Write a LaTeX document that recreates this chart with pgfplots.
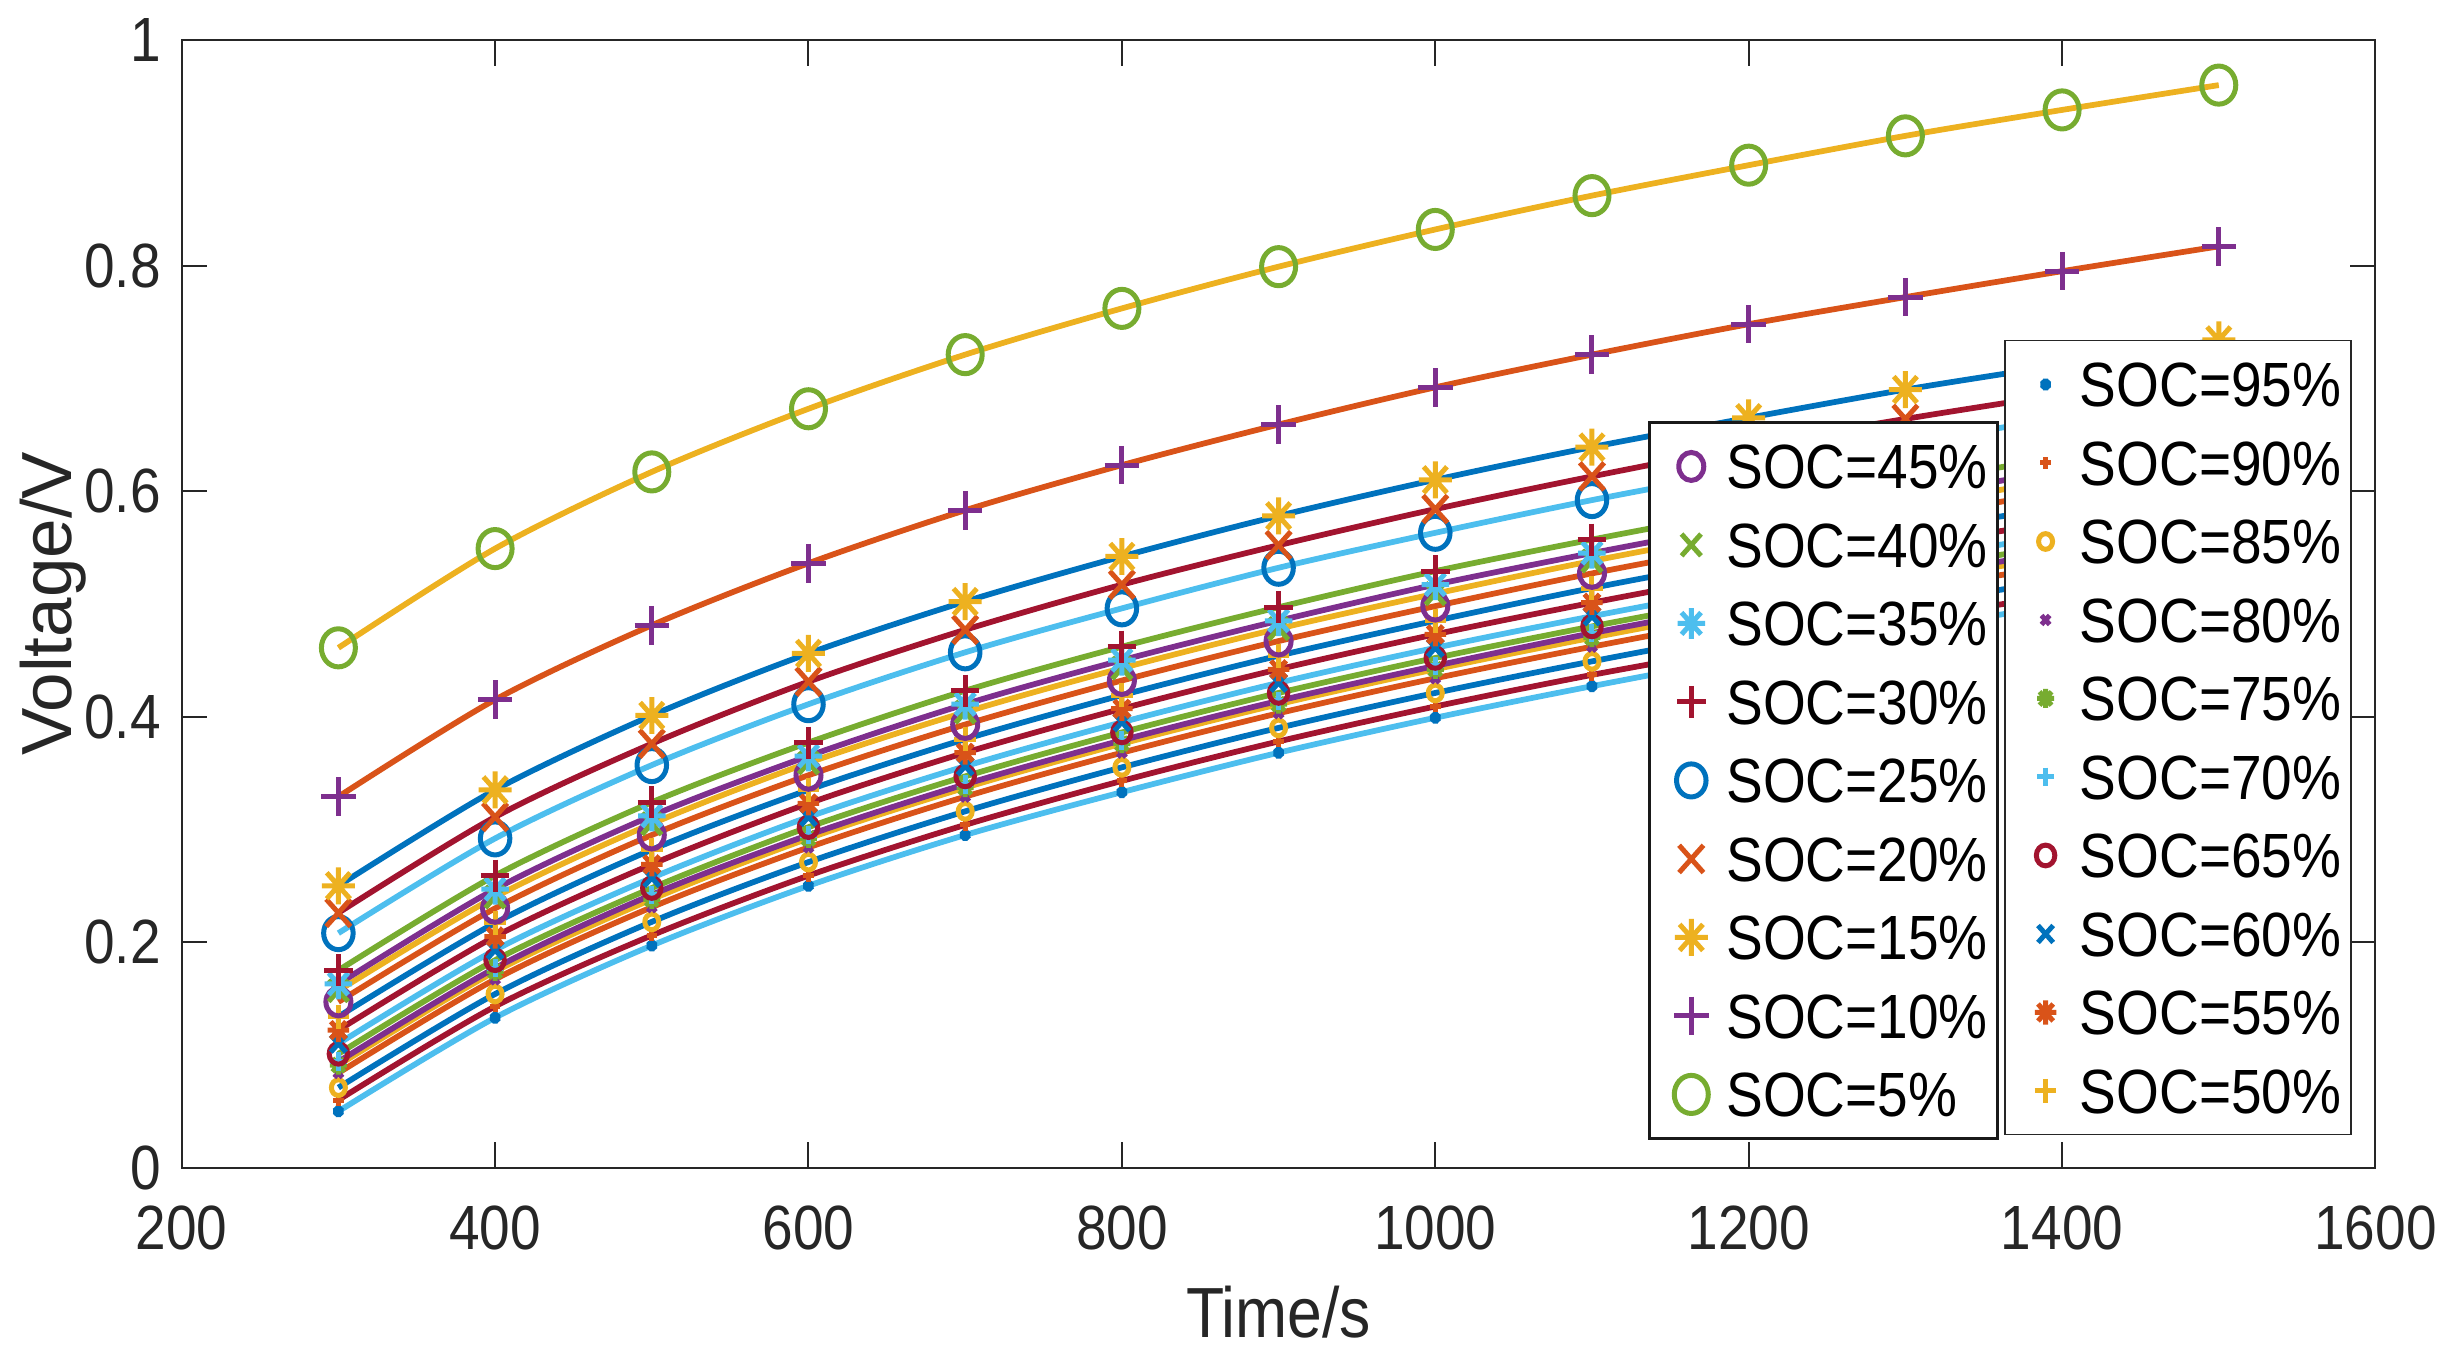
\documentclass[border=0pt]{standalone}
\usepackage{fontspec}
\setmainfont{Liberation Sans}[FakeStretch=0.88]
\newfontfamily\ylabfont{Liberation Sans}
\usepackage{pgfplots}
\usepackage{pgfplotstable}
\pgfplotsset{compat=1.18}

\definecolor{c1}{HTML}{0072BD}
\definecolor{c2}{HTML}{D95319}
\definecolor{c3}{HTML}{EDB120}
\definecolor{c4}{HTML}{7E2F8E}
\definecolor{c5}{HTML}{77AC30}
\definecolor{c6}{HTML}{4DBEEE}
\definecolor{c7}{HTML}{A2142F}
\definecolor{tx}{HTML}{262626}

\pgfdeclareplotmark{matast}{%
  \pgfpathmoveto{\pgfqpoint{-\pgfplotmarksize}{0pt}}%
  \pgfpathlineto{\pgfqpoint{\pgfplotmarksize}{0pt}}%
  \pgfpathmoveto{\pgfqpoint{0pt}{-\pgfplotmarksize}}%
  \pgfpathlineto{\pgfqpoint{0pt}{\pgfplotmarksize}}%
  \pgfpathmoveto{\pgfqpoint{-.7071\pgfplotmarksize}{-.7071\pgfplotmarksize}}%
  \pgfpathlineto{\pgfqpoint{.7071\pgfplotmarksize}{.7071\pgfplotmarksize}}%
  \pgfpathmoveto{\pgfqpoint{-.7071\pgfplotmarksize}{.7071\pgfplotmarksize}}%
  \pgfpathlineto{\pgfqpoint{.7071\pgfplotmarksize}{-.7071\pgfplotmarksize}}%
  \pgfusepathqstroke}

\tikzset{
  mkbase/.style={mark options={solid, line width=1pt, yscale=1.12}},
  mk5/.style ={mkbase, color=c5, mark=o,      mark size=3.4pt},
  mk10/.style={mkbase, color=c4, mark=+,      mark size=3.45pt},
  mk15/.style={mkbase, color=c3, mark=matast, mark size=3.3pt},
  mk20/.style={mkbase, color=c2, mark=x,      mark size=3.45pt},
  mk25/.style={mkbase, color=c1, mark=o,      mark size=2.95pt},
  mk30/.style={mkbase, color=c7, mark=+,      mark size=2.85pt},
  mk35/.style={mkbase, color=c6, mark=matast, mark size=2.75pt},
  mk40/.style={mkbase, color=c5, mark=x,      mark size=2.75pt},
  mk45/.style={mkbase, color=c4, mark=o,      mark size=2.5pt},
  mk50/.style={mkbase, color=c3, mark=+,      mark size=2.15pt},
  mk55/.style={mkbase, color=c2, mark=matast, mark size=2.15pt},
  mk60/.style={mkbase, color=c1, mark=x,      mark size=2.15pt},
  mk65/.style={mkbase, color=c7, mark=o,      mark size=1.85pt},
  mk70/.style={mkbase, color=c6, mark=+,      mark size=1.65pt},
  mk75/.style={mkbase, color=c5, mark=matast, mark size=1.7pt},
  mk80/.style={mkbase, color=c4, mark=x,      mark size=1.15pt},
  mk85/.style={mkbase, color=c3, mark=o,      mark size=1.4pt},
  mk90/.style={mkbase, color=c2, mark=+,      mark size=1.05pt},
  mk95/.style={mkbase, color=c1, mark=matast, mark size=1.05pt},
  ln/.style={line width=1.15pt, smooth},
}

\pgfplotstableread{
t    s5    s10   s15   s20   s25   s30   s35   s40   s45   s50   s55   s60   s65   s70   s75   s80   s85   s90   s95
300  0.461 0.329 0.250 0.226 0.208 0.175 0.163 0.157 0.147 0.134 0.122 0.110 0.101 0.094 0.091 0.084 0.071 0.060 0.050
400  0.549 0.415 0.335 0.311 0.292 0.259 0.247 0.240 0.230 0.217 0.205 0.193 0.184 0.177 0.174 0.167 0.154 0.143 0.133
500  0.617 0.481 0.401 0.376 0.357 0.324 0.312 0.305 0.295 0.282 0.269 0.257 0.248 0.242 0.238 0.231 0.218 0.206 0.197
600  0.673 0.536 0.456 0.431 0.411 0.377 0.365 0.359 0.348 0.335 0.323 0.311 0.302 0.295 0.292 0.284 0.271 0.259 0.250
700  0.721 0.583 0.502 0.477 0.457 0.423 0.411 0.404 0.393 0.380 0.368 0.356 0.347 0.340 0.337 0.329 0.316 0.304 0.295
800  0.762 0.623 0.542 0.517 0.496 0.462 0.450 0.443 0.432 0.419 0.407 0.395 0.386 0.379 0.376 0.368 0.355 0.343 0.333
900  0.799 0.659 0.578 0.552 0.532 0.497 0.485 0.478 0.467 0.454 0.442 0.430 0.421 0.414 0.411 0.403 0.390 0.378 0.368
1000 0.832 0.692 0.610 0.584 0.563 0.529 0.517 0.509 0.498 0.485 0.473 0.461 0.452 0.445 0.442 0.434 0.421 0.409 0.399
1100 0.862 0.721 0.639 0.613 0.592 0.557 0.545 0.538 0.527 0.514 0.501 0.489 0.480 0.474 0.470 0.462 0.449 0.437 0.427
1200 0.889 0.748 0.665 0.640 0.618 0.583 0.571 0.564 0.553 0.540 0.527 0.515 0.506 0.500 0.496 0.488 0.475 0.462 0.453
1300 0.915 0.772 0.690 0.664 0.642 0.607 0.595 0.587 0.577 0.564 0.551 0.539 0.530 0.524 0.520 0.512 0.499 0.486 0.477
1400 0.938 0.795 0.712 0.686 0.665 0.630 0.618 0.610 0.599 0.586 0.573 0.561 0.552 0.546 0.542 0.534 0.521 0.508 0.499
1500 0.960 0.817 0.734 0.708 0.686 0.651 0.639 0.631 0.620 0.607 0.594 0.582 0.573 0.567 0.563 0.555 0.542 0.529 0.520
}\data

\pgfplotsset{
  common/.style={
    at={(0pt,0pt)}, anchor=south west,
    scale only axis, width=438.76pt, height=225.54pt,
    xmin=200, xmax=1600, ymin=0, ymax=1,
    legend cell align=left,
  },
  legstyle/.style={
    inner xsep=2pt, inner ysep=2.75pt, row sep=3.7pt, column sep=0.7pt,
    fill=white, text=black,
    font=\fontsize{12.5}{14}\selectfont,
    nodes={inner sep=0pt, text height=10.5pt, text depth=1.5pt},
  },
}

\begin{document}
\begin{tikzpicture}
\begin{axis}[
  common,
  legend image code/.code={\path (0pt,0pt) (12pt,0pt); \draw[#1] plot coordinates {(6pt,0pt)};},
  xtick={200,400,...,1600}, ytick={0,0.2,0.4,0.6,0.8,1},
  /pgf/number format/assume math mode=true,
  /pgf/number format/1000 sep={},
  tick label style={font=\fontsize{12.5}{14}\selectfont, text=tx},
  xticklabel style={anchor=north, inner sep=0pt, yshift=-7.5pt},
  yticklabel style={anchor=east, inner sep=0pt, xshift=-4pt},
  major tick length=5.1pt,
  tick style={line width=0.4pt, color=tx},
  axis line style={line width=0.4pt, color=tx},
  xlabel={Time/s},
  ylabel={Voltage/V},
  xlabel style={at={(rel axis cs:0.5,0)}, anchor=base, yshift=-33.9pt, inner sep=0pt,
    font=\fontsize{14.2}{16}\selectfont, text=tx},
  ylabel style={at={(rel axis cs:0,0.5)}, anchor=base, yshift=22pt, inner sep=0pt,
    font=\ylabfont\fontsize{14.2}{16}\selectfont, text=tx},
  legend style={legstyle, at={(0.8307,0.734)}, anchor=north west, draw=tx, line width=0.3pt},
]
% markers (data)
\addplot[only marks, mk95, forget plot] table[x=t, y=s95] {\data};
\addplot[only marks, mk90, forget plot] table[x=t, y=s90] {\data};
\addplot[only marks, mk85, forget plot] table[x=t, y=s85] {\data};
\addplot[only marks, mk80, forget plot] table[x=t, y=s80] {\data};
\addplot[only marks, mk75, forget plot] table[x=t, y=s75] {\data};
\addplot[only marks, mk70, forget plot] table[x=t, y=s70] {\data};
\addplot[only marks, mk65, forget plot] table[x=t, y=s65] {\data};
\addplot[only marks, mk60, forget plot] table[x=t, y=s60] {\data};
\addplot[only marks, mk55, forget plot] table[x=t, y=s55] {\data};
\addplot[only marks, mk50, forget plot] table[x=t, y=s50] {\data};
\addplot[only marks, mk45, forget plot] table[x=t, y=s45] {\data};
\addplot[only marks, mk40, forget plot] table[x=t, y=s40] {\data};
\addplot[only marks, mk35, forget plot] table[x=t, y=s35] {\data};
\addplot[only marks, mk30, forget plot] table[x=t, y=s30] {\data};
\addplot[only marks, mk25, forget plot] table[x=t, y=s25] {\data};
\addplot[only marks, mk20, forget plot] table[x=t, y=s20] {\data};
\addplot[only marks, mk15, forget plot] table[x=t, y=s15] {\data};
\addplot[only marks, mk10, forget plot] table[x=t, y=s10] {\data};
\addplot[only marks, mk5,  forget plot] table[x=t, y=s5]  {\data};
% fitted curves
\addplot[ln, c6, no marks, forget plot] table[x=t, y=s95] {\data};
\addplot[ln, c7, no marks, forget plot] table[x=t, y=s90] {\data};
\addplot[ln, c1, no marks, forget plot] table[x=t, y=s85] {\data};
\addplot[ln, c2, no marks, forget plot] table[x=t, y=s80] {\data};
\addplot[ln, c3, no marks, forget plot] table[x=t, y=s75] {\data};
\addplot[ln, c4, no marks, forget plot] table[x=t, y=s70] {\data};
\addplot[ln, c5, no marks, forget plot] table[x=t, y=s65] {\data};
\addplot[ln, c6, no marks, forget plot] table[x=t, y=s60] {\data};
\addplot[ln, c7, no marks, forget plot] table[x=t, y=s55] {\data};
\addplot[ln, c1, no marks, forget plot] table[x=t, y=s50] {\data};
\addplot[ln, c2, no marks, forget plot] table[x=t, y=s45] {\data};
\addplot[ln, c3, no marks, forget plot] table[x=t, y=s40] {\data};
\addplot[ln, c4, no marks, forget plot] table[x=t, y=s35] {\data};
\addplot[ln, c5, no marks, forget plot] table[x=t, y=s30] {\data};
\addplot[ln, c6, no marks, forget plot] table[x=t, y=s25] {\data};
\addplot[ln, c7, no marks, forget plot] table[x=t, y=s20] {\data};
\addplot[ln, c1, no marks, forget plot] table[x=t, y=s15] {\data};
\addplot[ln, c2, no marks, forget plot] table[x=t, y=s10] {\data};
\addplot[ln, c3, no marks, forget plot] table[x=t, y=s5]  {\data};
% legend (right box)
\addlegendimage{mk95}\addlegendentry{SOC=95\%}
\addlegendimage{mk90}\addlegendentry{SOC=90\%}
\addlegendimage{mk85}\addlegendentry{SOC=85\%}
\addlegendimage{mk80}\addlegendentry{SOC=80\%}
\addlegendimage{mk75}\addlegendentry{SOC=75\%}
\addlegendimage{mk70}\addlegendentry{SOC=70\%}
\addlegendimage{mk65}\addlegendentry{SOC=65\%}
\addlegendimage{mk60}\addlegendentry{SOC=60\%}
\addlegendimage{mk55}\addlegendentry{SOC=55\%}
\addlegendimage{mk50}\addlegendentry{SOC=50\%}
\end{axis}
\begin{axis}[
  common, hide axis,
  legend image code/.code={\path (0pt,0pt) (12pt,0pt); \draw[#1] plot coordinates {(6pt,0pt)};},
  legend style={legstyle, at={(0.6684,0.6621)}, anchor=north west, draw=black!90, line width=0.65pt},
]
\addlegendimage{mk45}\addlegendentry{SOC=45\%}
\addlegendimage{mk40}\addlegendentry{SOC=40\%}
\addlegendimage{mk35}\addlegendentry{SOC=35\%}
\addlegendimage{mk30}\addlegendentry{SOC=30\%}
\addlegendimage{mk25}\addlegendentry{SOC=25\%}
\addlegendimage{mk20}\addlegendentry{SOC=20\%}
\addlegendimage{mk15}\addlegendentry{SOC=15\%}
\addlegendimage{mk10}\addlegendentry{SOC=10\%}
\addlegendimage{mk5}\addlegendentry{SOC=5\%}
\end{axis}
\pgfresetboundingbox
\path[use as bounding box] (-36.34pt,-39.66pt) rectangle (454.66pt,233.54pt);
\end{tikzpicture}
\end{document}
